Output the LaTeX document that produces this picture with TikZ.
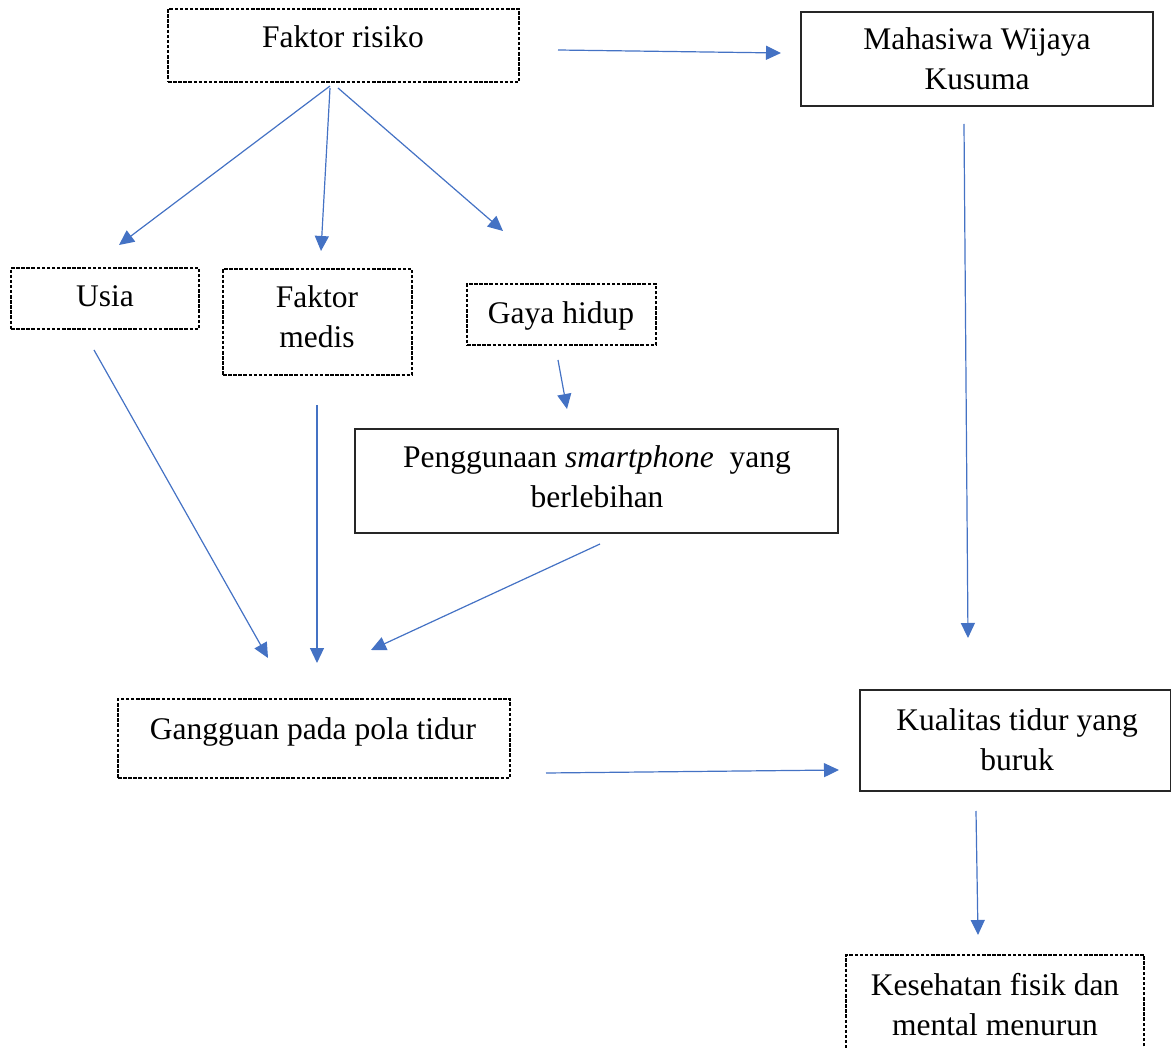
\documentclass[tikz,border=0pt]{standalone}
\usepackage{fontspec}
\setmainfont{Liberation Serif}
\usetikzlibrary{arrows.meta}
\definecolor{arrowblue}{HTML}{4472C4}
\tikzset{
  boxd/.style={draw=black, line width=1.1pt, dash pattern=on 3.5pt off 1.6pt, inner sep=0pt},
  boxs/.style={draw=black!85, line width=1.1pt, inner sep=0pt},
  lbl/.style={font=\fontsize{31.5}{40}\selectfont, align=center, inner sep=0pt, anchor=base},
  conn/.style={draw=arrowblue, line width=1.2pt, -{Triangle[length=15pt,width=14pt]}}
}
\begin{document}
\begin{tikzpicture}[x=1pt,y=-1pt]
\useasboundingbox (0,0) rectangle (1171,1048);
% boxes
\node[boxd, minimum width=351pt, minimum height=73pt] (fr) at (343.5,45.5) {};
\node[lbl] (frt) at (343,48) {Faktor risiko};
\node[boxs, minimum width=352pt, minimum height=94pt] (mw) at (977,59) {};
\node[lbl] (mwt) at (977,90) {Mahasiwa Wijaya\\Kusuma};
\node[boxd, minimum width=188pt, minimum height=61pt] (us) at (105,298.5) {};
\node[lbl] (ust) at (105,307) {Usia};
\node[boxd, minimum width=189pt, minimum height=106pt] (fm) at (317.5,322) {};
\node[lbl] (fmt) at (317,348) {Faktor\\medis};
\node[boxd, minimum width=189pt, minimum height=61pt] (gh) at (561.5,314.5) {};
\node[lbl] (ght) at (561,324) {Gaya hidup};
\node[boxs, minimum width=483pt, minimum height=104pt] (ps) at (596.5,481) {};
\node[lbl] (pst) at (597,508) {Penggunaan \textit{smartphone}\ \ yang\\berlebihan};
\node[boxd, minimum width=392pt, minimum height=79pt] (gp) at (314,738.5) {};
\node[lbl] (gpt) at (313,739) {Gangguan pada pola tidur};
\node[boxs, minimum width=311pt, minimum height=101pt] (kt) at (1015.5,740.5) {};
\node[lbl] (ktt) at (1017,770) {Kualitas tidur yang\\buruk};
\node[boxd, minimum width=298pt, minimum height=130pt] (kf) at (995,1020) {};
\node[lbl] (kft) at (995,1035) {Kesehatan fisik dan\\mental menurun};
% connector end points
\coordinate (a1) at (558,50);   \coordinate (b1) at (781,53);
\coordinate (a2) at (330,86);   \coordinate (b2) at (119,245);
\coordinate (a3) at (330,88);   \coordinate (b3) at (321,251);
\coordinate (a4) at (338,88);   \coordinate (b4) at (503,231);
\coordinate (a5) at (964,124);  \coordinate (b5) at (968,638);
\coordinate (a6) at (94,350);   \coordinate (b6) at (268,658);
\coordinate (a7) at (317,405);  \coordinate (b7) at (317,663);
\coordinate (a8) at (558,360);  \coordinate (b8) at (567,409);
\coordinate (a9) at (600,544);  \coordinate (b9) at (371,650);
\coordinate (a10) at (546,773); \coordinate (b10) at (839,770);
\coordinate (a11) at (976,811); \coordinate (b11) at (978,935);
\foreach \i in {1,...,11} {\draw[conn] (a\i) -- (b\i);}
\end{tikzpicture}
\end{document}
